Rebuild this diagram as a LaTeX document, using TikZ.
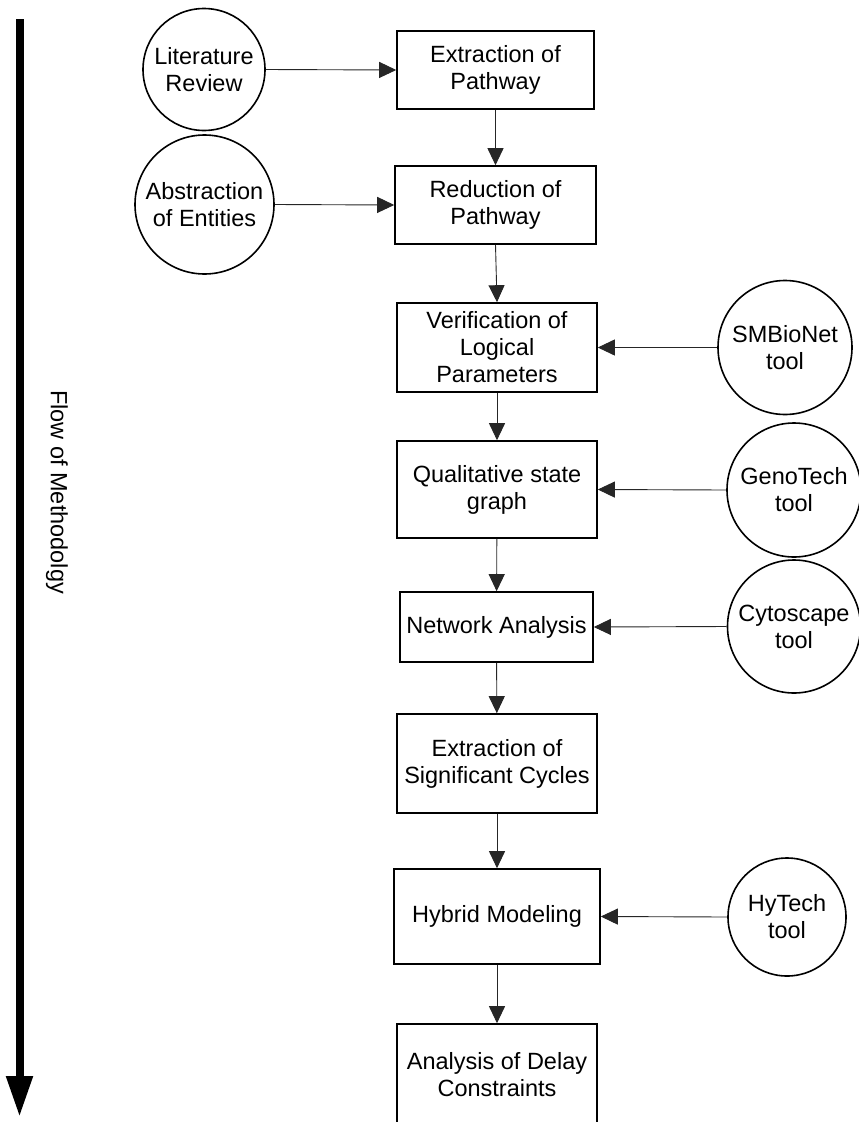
\documentclass[tikz,border=0pt]{standalone}
\usepackage{fontspec}
\setmainfont{Liberation Sans}
\usetikzlibrary{arrows.meta}
\begin{document}
\begin{tikzpicture}[x=1pt,y=-1pt,
  every node/.style={font=\fontsize{23.5}{27}\selectfont, align=center, inner sep=0pt},
  stepbox/.style={draw, line width=1.6pt, rectangle, fill=white},
  toolcirc/.style={draw, line width=1.6pt, circle, fill=white},
  conn/.style={draw=black!85, line width=0.9pt, -{Triangle[length=17pt,width=16pt]}},
  bigarrow/.style={line width=8pt, -{Triangle[length=41pt,width=25pt]}}
]
\useasboundingbox (0,0) rectangle (859,1122);

% process boxes
\node[stepbox, minimum width=197pt, minimum height=78pt] (ext) at (495.5,70) {Extraction of\\Pathway};
\node[stepbox, minimum width=201pt, minimum height=78pt] (red) at (495.5,205) {Reduction of\\Pathway};
\node[stepbox, minimum width=200pt, minimum height=89pt] (ver) at (497,347.5) {Verification of\\Logical\\Parameters};
\node[stepbox, minimum width=200pt, minimum height=97pt] (qual) at (497,489.5) {Qualitative state\\graph};
\node[stepbox, minimum width=193pt, minimum height=70pt] (net) at (496.5,627) {Network Analysis};
\node[stepbox, minimum width=200pt, minimum height=99pt] (sig) at (497,763.5) {Extraction of\\Significant Cycles};
\node[stepbox, minimum width=206pt, minimum height=95pt] (hyb) at (497,916.5) {Hybrid Modeling};
\node[stepbox, minimum width=200pt, minimum height=102pt] (del) at (497,1075) {Analysis of Delay\\Constraints};

% tool / source circles
\node[toolcirc, minimum size=122pt] (lit) at (204,69.5) {Literature\\Review};
\node[toolcirc, minimum size=139pt] (abs) at (204.5,204.5) {Abstraction\\of Entities};
\node[toolcirc, minimum size=134pt] (smb) at (785,347.5) {SMBioNet\\tool};
\node[toolcirc, minimum size=134pt] (geno) at (794,490) {GenoTech\\tool};
\node[toolcirc, minimum size=133pt] (cyto) at (794,626.5) {Cytoscape\\tool};
\node[toolcirc, minimum size=118pt] (hyt) at (787,917) {HyTech\\tool};

% vertical flow
\draw[conn] (ext) -- (red);
\draw[conn] (red.south) -- (ver.north);
\draw[conn] (ver) -- (qual);
\draw[conn] (qual) -- (net);
\draw[conn] (net) -- (sig);
\draw[conn] (sig) -- (hyb);
\draw[conn] (hyb) -- (del);

% horizontal inputs
\draw[conn] (lit.east) -- (ext.west);
\draw[conn] (abs.east) -- (red.west);
\draw[conn] (smb.west) -- (ver.east);
\draw[conn] (geno.west) -- (qual.east);
\draw[conn] (cyto.west) -- (net.east);
\draw[conn] (hyt.west) -- (hyb.east);

% flow of methodology arrow
\coordinate (atop) at (19.5,19);
\coordinate (abot) at (19.5,1117);
\draw[bigarrow] (atop) -- (abot);
\node[rotate=-90] (flow) at (57,492) {Flow of Methodolgy};
\end{tikzpicture}
\end{document}
